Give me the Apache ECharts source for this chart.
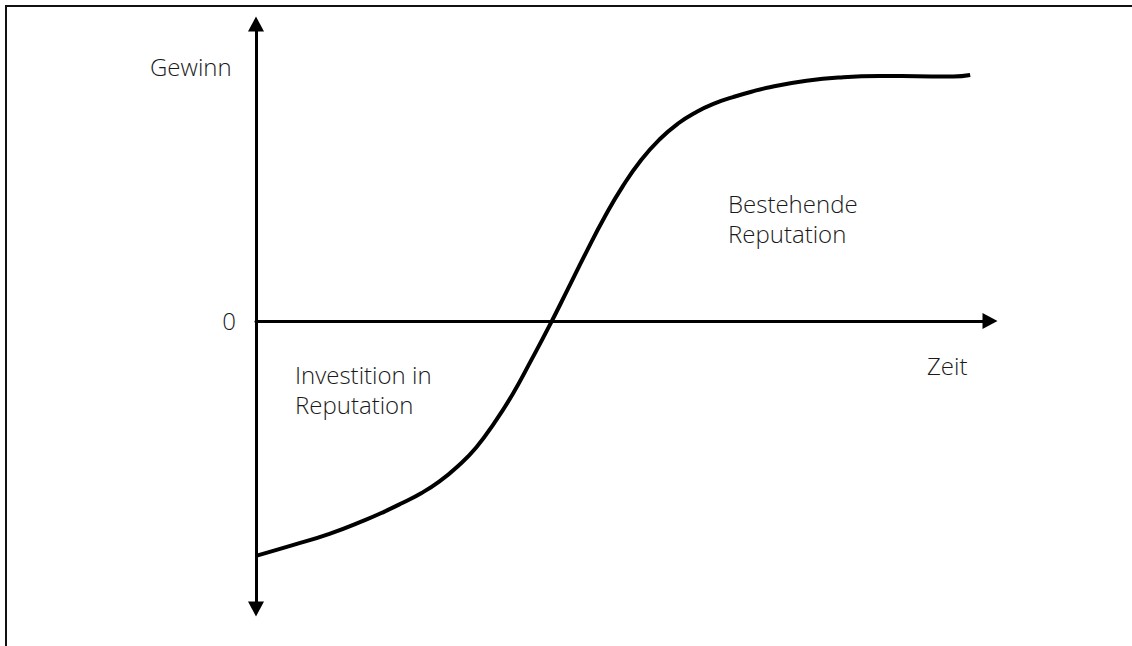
<!DOCTYPE html>
<html>
<head>
<meta charset="utf-8">
<script src="https://cdn.jsdelivr.net/npm/echarts@6/dist/echarts.min.js"></script>
<style>
  html, body { margin: 0; padding: 0; background: #fff; }
  #main { width: 1132px; height: 646px; }
</style>
</head>
<body>
<div id="main"></div>
<script>
// Zeit (0..100) und Gewinn (Nulllinie = 0)
var zeit = [0, 5, 10, 15, 17.5, 20, 22.5, 25, 27.5, 30, 32.5, 35, 37.5, 40, 42.5, 45, 47.5, 50, 52.5, 55, 57.5, 60, 62.5, 65, 67.5, 70, 75, 80, 85, 90, 95, 97.3];
var gewinn = [-79.1, -75.5, -71.7, -66.9, -64.2, -61.2, -58.0, -54.0, -48.9, -42.6, -34.2, -24.5, -13.2, -1.5, 10.8, 23.2, 35.0, 45.5, 54.3, 61.2, 66.5, 70.4, 73.3, 75.4, 77.2, 78.7, 80.9, 82.1, 82.5, 82.4, 82.3, 82.8];

var yAchsenName = "Gewinn";
var xAchsenName = "Zeit";
var nullLabel = "0";
var textLinks = ["Investition in", "Reputation"];
var textRechts = ["Bestehende", "Reputation"];

var chart = echarts.init(document.getElementById("main"), null, { renderer: "svg" });

var font = { fontFamily: "Open Sans", fontWeight: 300, fontSize: 24, fill: "#1a1a1a" };
function txt(x, y, text, align) {
  return {
    type: "text",
    x: x,
    y: y,
    silent: true,
    style: Object.assign({
      text: text,
      textAlign: align || "left",
      textVerticalAlign: "middle",
      lineHeight: 30
    }, font)
  };
}

var option = {
  animation: false,
  grid: { left: 256, right: 142, top: 24, bottom: 37 },
  xAxis: {
    type: "value",
    min: 0,
    max: 100,
    axisLine: {
      show: true,
      onZero: true,
      symbol: ["none", "triangle"],
      symbolSize: [16, 15],
      lineStyle: { color: "#000", width: 3 }
    },
    axisTick: { show: false },
    axisLabel: { show: false },
    splitLine: { show: false }
  },
  yAxis: {
    type: "value",
    min: -97,
    max: 100,
    axisLine: {
      show: true,
      symbol: ["triangle", "triangle"],
      symbolSize: [16, 15],
      lineStyle: { color: "#000", width: 3 }
    },
    axisTick: { show: false },
    axisLabel: { show: false },
    splitLine: { show: false }
  },
  series: [
    {
      type: "line",
      data: zeit.map(function (x, i) { return [x, gewinn[i]]; }),
      smooth: 0.5,
      showSymbol: false,
      clip: false,
      lineStyle: { color: "#000", width: 4 }
    }
  ],
  graphic: [
    {
      type: "polyline",
      silent: true,
      shape: { points: [[6, 646], [6, 6], [1132, 6]] },
      style: { stroke: "#111", lineWidth: 2, fill: null }
    },
    txt(150, 66, yAchsenName),
    txt(229, 320, nullLabel, "center"),
    txt(295, 389, textLinks.join("\n")),
    txt(728, 218, textRechts.join("\n")),
    txt(927, 365, xAchsenName)
  ]
};

chart.setOption(option);
</script>
</body>
</html>
